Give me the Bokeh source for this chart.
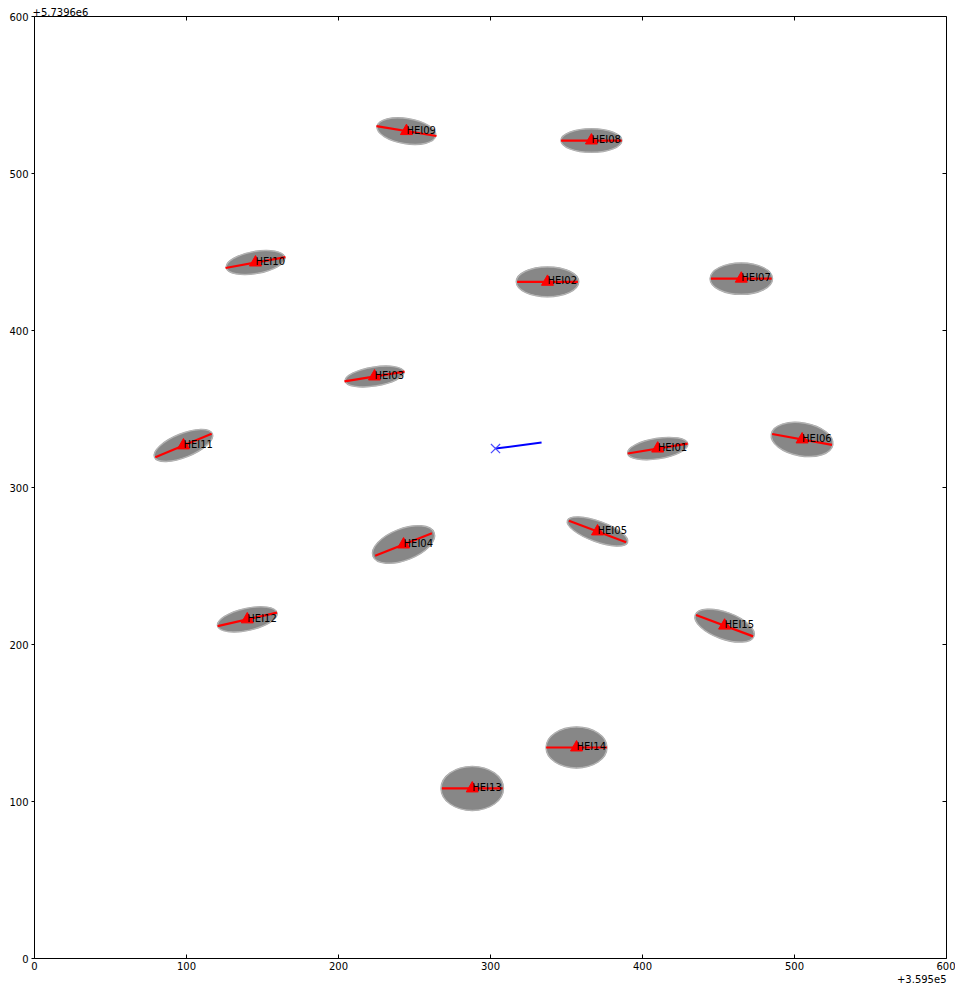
import numpy as np
from bokeh.plotting import figure
from bokeh.models import ColumnDataSource, FixedTicker, Range1d, Title
from bokeh.core.properties import value
from bokeh.embed import file_html
from bokeh.resources import INLINE

# Station data (offsets: x +3.595e5, y +5.7396e6)
names = ["HEI01", "HEI02", "HEI03", "HEI04", "HEI05", "HEI06", "HEI07", "HEI08",
         "HEI09", "HEI10", "HEI11", "HEI12", "HEI13", "HEI14", "HEI15"]
sx = [410, 337.5, 223.7, 242.8, 370.4, 505, 465, 366.4, 244.7, 145.4, 98, 140, 288, 356.6, 454]
sy = [324.8, 431, 370.7, 263.7, 272, 330.6, 433, 521, 527, 443.3, 326.8, 216, 108.3, 134.4, 212]
# orientation of red line (degrees), and gray cloud size (data units)
orient_deg = [9, 0, 9, 21, -20, -10, 0, 0, -9, 10, 22, 12.5, 0, 0, -20]
cloud_w = [40, 41, 39, 43, 42, 41, 41, 40, 39, 39, 41, 40, 41, 40, 41]
cloud_h = [13, 19, 12, 20, 13, 21, 20, 15, 16, 14, 15, 14, 28, 26, 17]
half_len = 20.0

# Source location (blue) and its direction
src_x = [303.3]
src_y = [324.8]
src_end_x = [333.6]
src_end_y = [328.7]

ticks = [0, 100, 200, 300, 400, 500, 600]
x_offset_text = "+3.595e5"
y_offset_text = "+5.7396e6"

ang = np.radians(orient_deg)
x0 = np.array(sx) - half_len * np.cos(ang)
x1 = np.array(sx) + half_len * np.cos(ang)
y0 = np.array(sy) - half_len * np.sin(ang)
y1 = np.array(sy) + half_len * np.sin(ang)

src = ColumnDataSource(dict(x=sx, y=sy, name=names, ang=ang, w=cloud_w, h=cloud_h,
                            x0=x0, x1=x1, y0=y0, y1=y1))

p = figure(width=955, height=987, output_backend="svg", toolbar_location=None,
           x_range=Range1d(0, 600), y_range=Range1d(0, 600),
           min_border_left=34, min_border_right=9, min_border_top=16, min_border_bottom=29)
p.grid.visible = False
p.outline_line_color = "black"
p.outline_line_width = 1
p.background_fill_color = "white"
p.border_fill_color = "white"

p.title.text = y_offset_text
p.title.text_font = "DejaVu Sans"
p.title.text_font_size = "10px"
p.title.text_font_style = "normal"
p.title.text_color = "black"
p.title.align = "left"
p.title.standoff = 1
p.title.offset = -2

for ax in (p.xaxis[0], p.yaxis[0]):
    ax.ticker = FixedTicker(ticks=ticks)
    ax.axis_line_color = None
    ax.minor_tick_line_color = None
    ax.major_tick_line_color = "black"
    ax.major_label_text_font = "DejaVu Sans"
    ax.major_label_text_font_size = "10px"
    ax.major_label_text_color = "black"
    ax.major_label_standoff = 3
p.xaxis[0].major_tick_in = 4
p.xaxis[0].major_tick_out = 0
p.yaxis[0].major_tick_in = 0
p.yaxis[0].major_tick_out = 3

p.add_layout(Title(text=x_offset_text, align="right", text_font="DejaVu Sans",
                   text_font_size="10px", text_font_style="normal", text_color="black",
                   standoff=0), "below")

# top / right inward ticks (clipped to the frame)
edge_top = [600] * len(ticks)
p.scatter(x=ticks, y=edge_top, marker="dash", angle=np.pi / 2, size=8,
          line_color="black", line_width=1)
p.scatter(x=edge_top, y=ticks, marker="dash", size=8, line_color="black", line_width=1)

# gray clouds
p.ellipse(x="x", y="y", width="w", height="h", angle="ang", source=src,
          fill_color="#878787", line_color="#a0a0a0", line_width=1.5)
p.ellipse(x="x", y="y", width="w", height="h", angle="ang", source=src,
          fill_alpha=0, line_color="#c8c8c8", line_width=0.7, line_alpha=0.8)

# red orientation lines
p.segment(x0="x0", y0="y0", x1="x1", y1="y1", source=src, line_color="red", line_width=2.2)
# triangles
p.scatter(x="x", y="y", source=src, marker="triangle", size=12,
          fill_color="red", line_color="red")
# labels
p.text(x="x", y="y", text="name", source=src, text_font=value("DejaVu Sans"),
       text_font_size="10px", text_color="black", text_baseline="alphabetic",
       text_align="left", x_offset=0, y_offset=-1)

# blue source
p.segment(x0=src_x, y0=src_y, x1=src_end_x, y1=src_end_y, line_color="blue", line_width=2)
p.scatter(x=src_x, y=src_y, marker="x", size=13, line_color="#4a4aff", line_width=1.2)

open("out.html", "w").write(file_html(p, INLINE))
